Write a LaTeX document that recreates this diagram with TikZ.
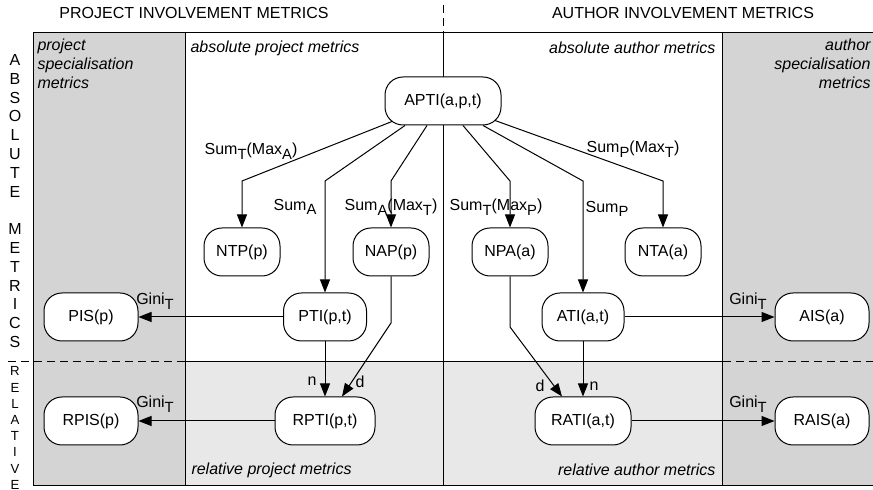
\documentclass[tikz,border=0pt]{standalone}
\usepackage{fontspec}
\setmainfont{Liberation Sans}
\usetikzlibrary{arrows.meta,calc}

\definecolor{colDark}{RGB}{212,212,212}
\definecolor{colLight}{RGB}{232,232,232}

\newcommand{\lowr}[1]{\raisebox{-0.55ex}{\fontsize{7.4}{8}\selectfont #1}}

\tikzset{
  metric/.style={draw, fill=white, rounded corners=9pt, minimum height=24pt,
    minimum width=38pt, inner sep=2pt, font=\fontsize{8}{9.5}\selectfont},
  flow/.style={-{Triangle[length=6.5pt,width=5pt]}},
  zone/.style={font=\fontsize{8}{9.5}\selectfont\itshape, inner sep=0pt},
  lbl/.style={font=\fontsize{8}{9.5}\selectfont, inner sep=0pt},
  sep/.style={dash pattern=on 4pt off 2.5pt},
}

\begin{document}
\begin{tikzpicture}[x=0.5pt, y=-0.5pt, line width=0.5pt]
  \useasboundingbox (0,0) rectangle (873,490);

  % Flaechen
  \fill[colDark] (33,33) rectangle (185,486);
  \fill[colDark] (722,33) rectangle (880,486);
  \fill[colLight] (185,362) rectangle (722,486);

  % Rahmen und Trennlinien
  \draw (880,33) -- (33,33) -- (33,486) -- (880,486);
  \draw (185,33) -- (185,486);
  \draw (722,33) -- (722,486);
  \draw (443,33) -- (443,486);
  \draw[sep] (443,5) -- (443,33);
  \draw[sep] (8,362) -- (873,362);
  \draw (185,362) -- (722,362);

  % Ueberschriften
  \node[lbl] (projhead) at (194,13) {PROJECT INVOLVEMENT METRICS};
  \node[lbl] (authhead) at (683,13) {AUTHOR INVOLVEMENT METRICS};
  \node[lbl, align=center, font=\fontsize{8}{9.4}\selectfont] (abslet) at (15,201)
    {A\\B\\S\\O\\L\\U\\T\\E\\\mbox{}\\M\\E\\T\\R\\I\\C\\S};
  \node[lbl, align=center, font=\fontsize{6.6}{8.1}\selectfont] (rellet) at (15,428)
    {R\\E\\L\\A\\T\\I\\V\\E};

  % Bereiche
  \node[zone, anchor=north west, align=left] (projspec) at (37,38)
    {project\\specialisation\\metrics};
  \node[zone, anchor=west] (absproj) at (190,48) {absolute project metrics};
  \node[zone, anchor=east] (absauth) at (716,48) {absolute author metrics};
  \node[zone, anchor=north east, align=right] (authspec) at (871,38)
    {author\\specialisation\\metrics};
  \node[zone, anchor=west] (relproj) at (191,470) {relative project metrics};
  \node[zone, anchor=east] (relauth) at (716,470) {relative author metrics};

  % Metriken
  \node[metric, minimum width=58pt] (apti) at (443,101) {APTI(a,p,t)};
  \node[metric] (ntp) at (242,252) {NTP(p)};
  \node[metric] (nap) at (391,252) {NAP(p)};
  \node[metric] (npa) at (510,252) {NPA(a)};
  \node[metric] (nta) at (663,252) {NTA(a)};
  \node[metric, minimum width=41.5pt] (pti) at (325,317) {PTI(p,t)};
  \node[metric, minimum width=41pt] (ati) at (583,317) {ATI(a,t)};
  \node[metric, minimum width=47pt] (pis) at (91,317) {PIS(p)};
  \node[metric, minimum width=47pt] (ais) at (822,317) {AIS(a)};
  \node[metric, minimum width=50pt] (rpti) at (325,421) {RPTI(p,t)};
  \node[metric, minimum width=48pt] (rati) at (583,421) {RATI(a,t)};
  \node[metric, minimum width=47pt] (rpis) at (91,421) {RPIS(p)};
  \node[metric, minimum width=47pt] (rais) at (822,421) {RAIS(a)};

  % Aggregationen
  \coordinate (bend) at (0,181);
  \draw[flow] ($(apti.south)+(-51,-4)$) -- (ntp.north |- bend) -- (ntp.north);
  \draw[flow] ($(apti.south)+(-38,0)$) -- (pti.north |- bend) -- (pti.north);
  \draw[flow] ($(apti.south)+(-16,0)$) -- (nap.north |- bend) -- (nap.north);
  \draw[flow] ($(apti.south)+(20,0)$) -- (npa.north |- bend) -- (npa.north);
  \draw[flow] ($(apti.south)+(40,0)$) -- (ati.north |- bend) -- (ati.north);
  \draw[flow] ($(apti.south)+(52,-5)$) -- (nta.north |- bend) -- (nta.north);

  \node[lbl] (sumtmaxa) at (251,151) {Sum\lowr{T}(Max\lowr{A})};
  \node[lbl] (suma) at (295,207) {Sum\lowr{A}};
  \node[lbl] (sumamaxt) at (391,207) {Sum\lowr{A}(Max\lowr{T})};
  \node[lbl] (sumtmaxp) at (496,207) {Sum\lowr{T}(Max\lowr{P})};
  \node[lbl] (sump) at (607,209) {Sum\lowr{P}};
  \node[lbl] (sumpmaxt) at (633,149) {Sum\lowr{P}(Max\lowr{T})};

  % Spezialisierung
  \draw[flow] (pti.west) -- (pis.east);
  \draw[flow] (rpti.west) -- (rpis.east);
  \draw[flow] (ati.east) -- (ais.west);
  \draw[flow] (rati.east) -- (rais.west);
  \node[lbl] (ginipis) at (155,301) {Gini\lowr{T}};
  \node[lbl] (ginirpis) at (155,404) {Gini\lowr{T}};
  \node[lbl] (giniais) at (748,301) {Gini\lowr{T}};
  \node[lbl] (ginirais) at (748,404) {Gini\lowr{T}};

  % Relative Metriken
  \draw[flow] (pti.south) -- (rpti.north);
  \draw[flow] (nap.south) -- (nap.south |- 0,323) -- ($(rpti.north)+(17,0)$);
  \draw[flow] (ati.south) -- (rati.north);
  \draw[flow] (npa.south) -- (npa.south |- 0,327) -- ($(rati.north)+(-21,0)$);
  \node[lbl] (nproj) at (312,381) {n};
  \node[lbl] (dproj) at (360,382) {d};
  \node[lbl] (dauth) at (540,386) {d};
  \node[lbl] (nauth) at (594,386) {n};
\end{tikzpicture}
\end{document}
